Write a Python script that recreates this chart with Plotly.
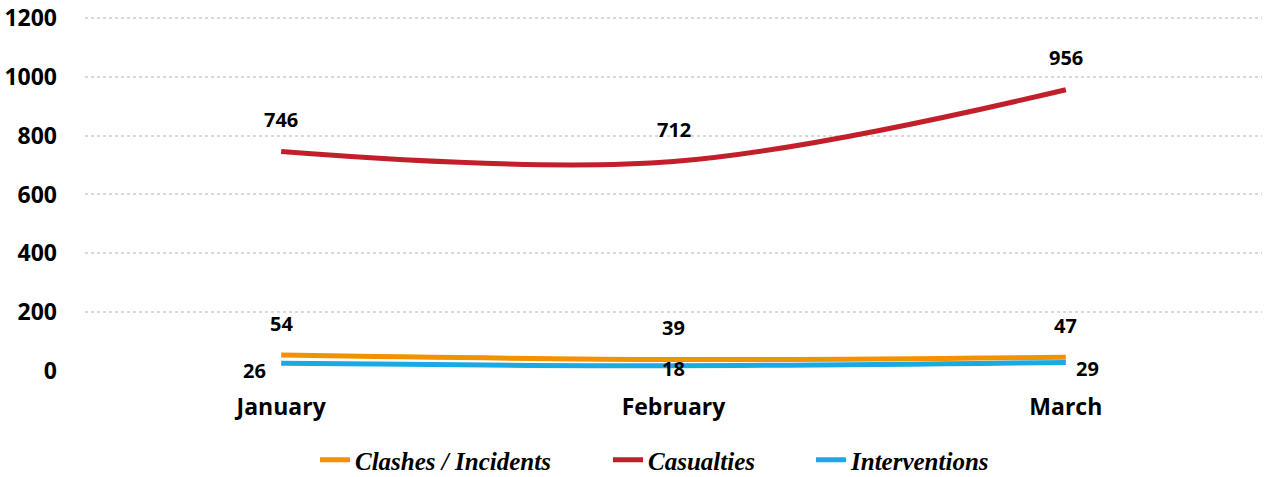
import plotly.graph_objects as go

months = ["January", "February", "March"]
clashes = [54, 39, 47]
casualties = [746, 712, 956]
interventions = [26, 18, 29]
y_ticks = [0, 200, 400, 600, 800, 1000, 1200]

label_font = dict(family="Open Sans", size=20, color="#000000", weight="bold")
legend_font = dict(family="Liberation Serif", size=25, color="#000000", style="italic", weight="bold")

fig = go.Figure()
fig.add_trace(go.Scatter(
    x=months, y=clashes, name="Clashes / Incidents", mode="lines",
    line=dict(color="#F39200", width=5, shape="spline"), legend="legend",
))
fig.add_trace(go.Scatter(
    x=months, y=casualties, name="Casualties", mode="lines",
    line=dict(color="#C1202B", width=5, shape="spline"), legend="legend2",
))
fig.add_trace(go.Scatter(
    x=months, y=interventions, name="Interventions", mode="lines",
    line=dict(color="#1BA9E1", width=5, shape="spline"), legend="legend3",
))

annotations = []
for m, v in zip(months, clashes):
    annotations.append(dict(x=m, y=v, text=str(v), showarrow=False, font=label_font,
                            yshift=32))
for m, v in zip(months, casualties):
    annotations.append(dict(x=m, y=v, text=str(v), showarrow=False, font=label_font,
                            yshift=32))
int_shifts = [(-27, -7), (0, -3), (22, -6)]
for (m, v), (dx, dy) in zip(zip(months, interventions), int_shifts):
    annotations.append(dict(x=m, y=v, text=str(v), showarrow=False, font=label_font,
                            xshift=dx, yshift=dy))


def leg(text_left_px):
    return dict(
        orientation="h", xref="container", yref="container",
        x=(text_left_px - 40) / 1266, xanchor="left",
        y=1 - 460 / 477, yanchor="middle",
        font=legend_font, bgcolor="rgba(0,0,0,0)",
    )


fig.update_layout(
    width=1266, height=477,
    margin=dict(l=85, r=4, t=15, b=106, autoexpand=False),
    plot_bgcolor="white", paper_bgcolor="white",
    showlegend=True,
    annotations=annotations,
    legend=leg(355),
    legend2=leg(648),
    legend3=leg(851),
    xaxis=dict(
        type="category", range=[-0.5, 2.5], showgrid=False, showline=False, zeroline=False,
        tickfont=dict(family="Open Sans", size=23, color="#000000", weight="bold"),
        ticklabelstandoff=20, ticks="", automargin=False,
    ),
    yaxis=dict(
        range=[0, 1210], tickvals=y_ticks, showgrid=True, gridcolor="#D9D9D9",
        griddash="dot", gridwidth=2, zeroline=False, showline=False,
        tickfont=dict(family="Open Sans", size=23, color="#000000", weight="bold"),
        ticklabelstandoff=27, ticks="", automargin=False,
    ),
)

fig.write_html("out.html", post_script="document.body.style.margin='0';",
               config={"displayModeBar": False})
